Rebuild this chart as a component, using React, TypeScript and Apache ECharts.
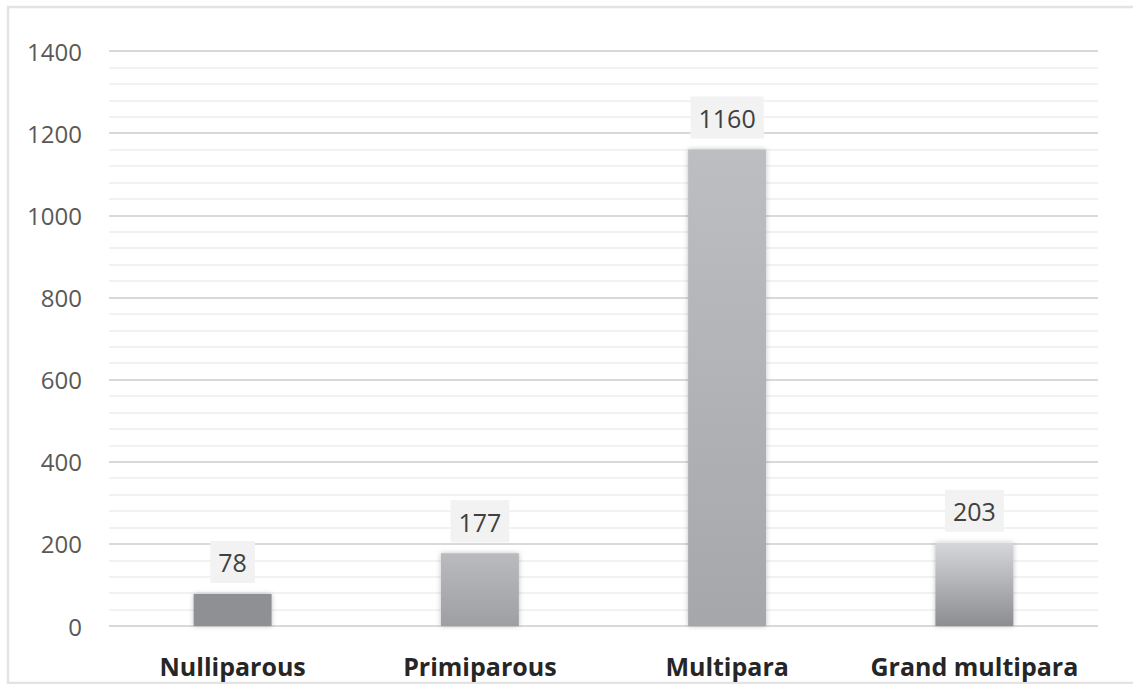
import React, { useEffect, useRef } from "react";
import * as echarts from "echarts";

const categories = ["Nulliparous", "Primiparous", "Multipara", "Grand multipara"];
const values = [78, 177, 1160, 203];
const yTicks = [0, 200, 400, 600, 800, 1000, 1200, 1400];
const barTop = ["#8f9094", "#babbbf", "#bdbec2", "#d6d7da"];
const barBottom = ["#8f9094", "#9e9fa3", "#a6a7ab", "#8c8d91"];

export default function App() {
  const ref = useRef<HTMLDivElement>(null);
  useEffect(() => {
    if (!ref.current) return;
    const chart = echarts.init(ref.current, null, { renderer: "svg" });
    const data = values.map((v, i) => ({
      value: v,
      itemStyle: {
        color: new echarts.graphic.LinearGradient(0, 0, 0, 1, [
          { offset: 0, color: barTop[i] },
          { offset: 1, color: barBottom[i] },
        ]),
      },
    }));
    chart.setOption({
      animation: false,
      backgroundColor: "#ffffff",
      graphic: [
        {
          type: "rect",
          shape: { x: 8, y: 7, width: 1140, height: 676 },
          style: { fill: "none", stroke: "#e3e3e3", lineWidth: 2.5 },
          silent: true,
          z: -1,
        },
      ],
      grid: { left: 109, right: 35, top: 51, bottom: 58, containLabel: false },
      xAxis: {
        type: "category",
        data: categories,
        axisLine: { show: false },
        axisTick: { show: false },
        axisLabel: {
          interval: 0,
          margin: 27,
          fontFamily: "Open Sans",
          fontWeight: "bold",
          fontSize: 25,
          color: "#262626",
        },
      },
      yAxis: {
        type: "value",
        min: yTicks[0],
        max: yTicks[yTicks.length - 1],
        interval: 200,
        axisLine: { show: false },
        axisTick: { show: false },
        axisLabel: {
          margin: 27,
          fontFamily: "Open Sans",
          fontSize: 24,
          color: "#595959",
          formatter: (v: number) => String(v),
        },
        splitLine: { lineStyle: { color: "#d9d9d9", width: 2 } },
        minorTick: { show: false, splitNumber: 5 },
        minorSplitLine: { show: true, lineStyle: { color: "#f2f2f2", width: 2 } },
      },
      series: [
        {
          type: "bar",
          data,
          barWidth: 78,
          itemStyle: {
            shadowBlur: 5,
            shadowColor: "rgba(0,0,0,0.25)",
          },
          label: {
            show: true,
            position: "top",
            distance: 11,
            fontFamily: "Open Sans",
            fontSize: 25,
            color: "#404040",
            backgroundColor: "#f2f2f2",
            padding: [9, 8, 8, 8],
          },
        },
      ],
    });
    return () => chart.dispose();
  }, []);
  return (
    <div
      ref={ref}
      style={{ position: "fixed", left: 0, top: 0, width: 1133, height: 684 }}
    />
  );
}
